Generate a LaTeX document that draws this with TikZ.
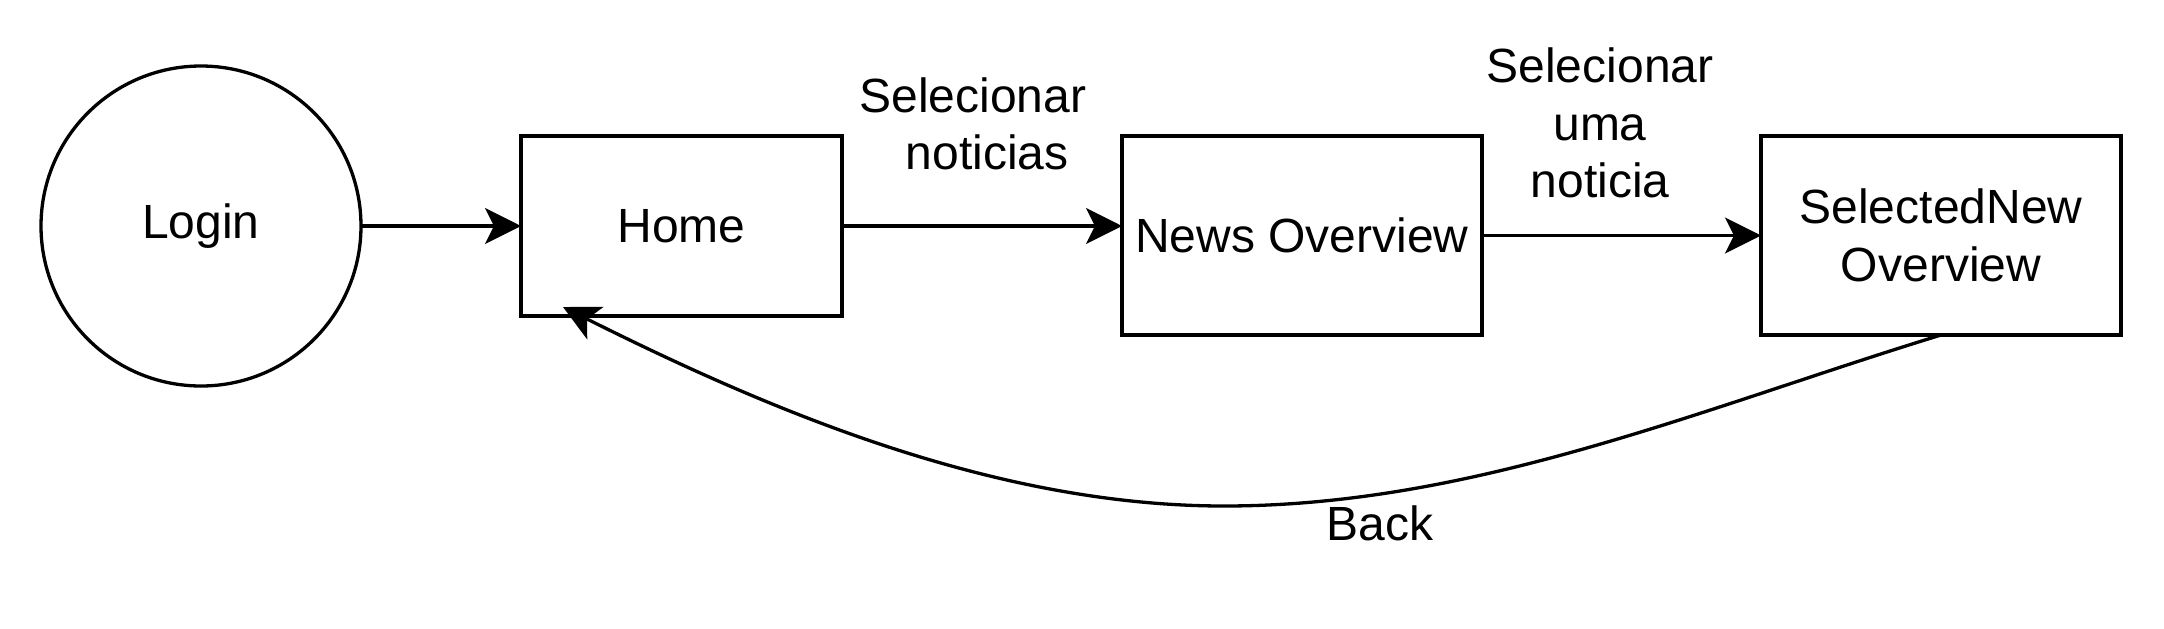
\documentclass[tikz,border=0pt]{standalone}
\usepackage{fontspec}
\setmainfont{Liberation Sans}
\usetikzlibrary{arrows.meta,calc}
\begin{document}
\begin{tikzpicture}[x=0.5pt,y=-0.5pt,
  every node/.style={font=\fontsize{24pt}{28.8pt}\selectfont, inner sep=0pt, outer sep=0pt},
  box/.style={draw, line width=1.65pt, rectangle},
  conn/.style={line width=1.65pt, -{Stealth[length=18pt,width=18pt,inset=4.5pt]}},
  lbl/.style={align=center}]
\useasboundingbox (0,0) rectangle (2164,628);
\node[draw, circle, line width=1.65pt, minimum size=160pt] (login) at (201,226) {Login};
\node[box, minimum width=160.5pt, minimum height=90pt] (home) at (681.5,226) {Home};
\node[box, minimum width=180pt, minimum height=99.5pt] (news) at (1302,235.5) {News Overview};
\node[box, minimum width=180pt, minimum height=99.5pt, align=center] (sel) at (1941,235.5) {SelectedNew\\Overview};
\node[lbl] (l1) at (973,124) {Selecionar\\\hspace*{14pt}noticias};
\node[lbl] (l2) at (1600,123) {Selecionar\\uma\\noticia};
\node (back) at (1380,523) {Back};
\coordinate (bk) at (1224,506);
\coordinate (hometip) at ($(home.south west)+(42,-9)$);
\draw[conn] (login.east) -- (home.west);
\draw[conn] (home.east) -- (home.east -| news.west);
\draw[conn] (news.east) -- (sel.west);
\draw[conn] (sel.south) .. controls (1700,409) and (1474,506) .. (bk)
  .. controls (994,506) and (769,410) .. (hometip);
\end{tikzpicture}
\end{document}
